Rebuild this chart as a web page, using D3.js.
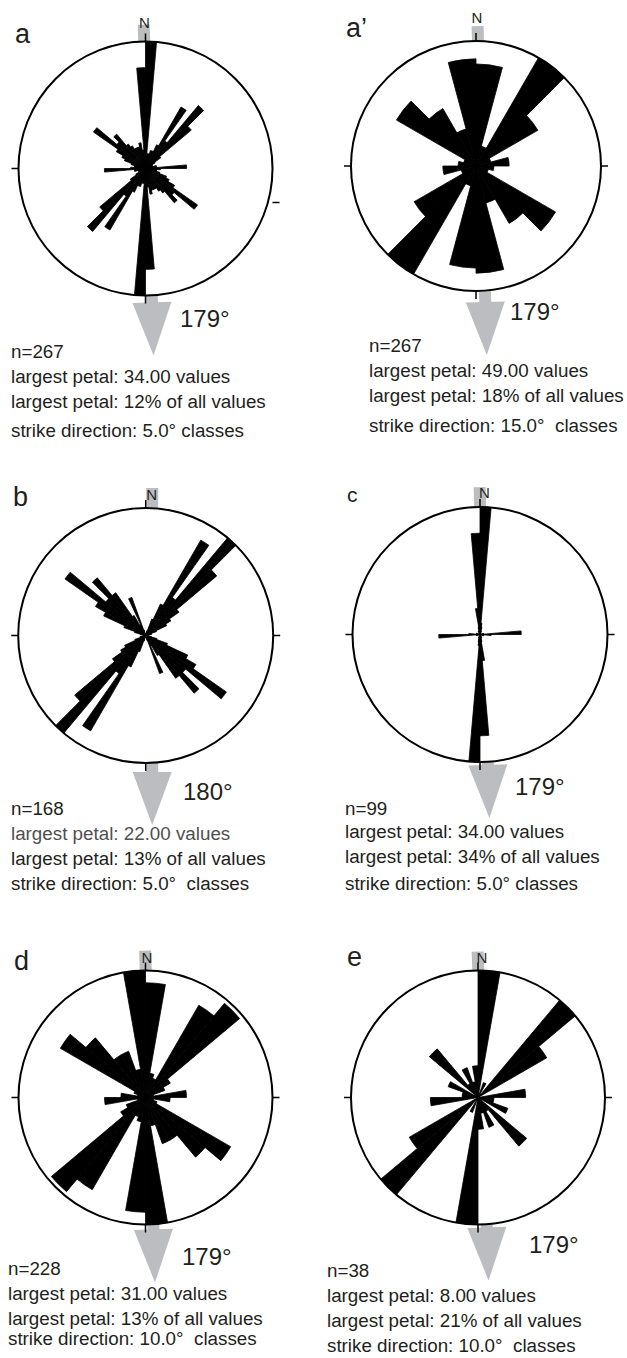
<!DOCTYPE html>
<html>
<head>
<meta charset="utf-8">
<script src="https://cdn.jsdelivr.net/npm/d3@7"></script>
<style>
  html, body { margin: 0; padding: 0; background: #fff; }
  svg text { font-family: "Liberation Sans", Arial, sans-serif; fill: #231f20; white-space: pre; }
</style>
</head>
<body>
<svg id="chart" width="627" height="1358"></svg>
<script>
// Petal counts per strike class from 0° to 180° (each is mirrored to 180°-360°)
const countsA = [34, 4, 4, 5, 5, 7, 19, 9, 22, 16, 5, 3, 2, 2, 2, 3, 3, 11,
                 4, 3, 3, 4, 6, 7, 9, 17, 10, 12, 8, 7, 6, 6, 6, 7, 5, 27];
const countsA2 = [40, 8, 49, 28, 6, 13, 7, 5, 36, 26, 15, 42];
const countsB = [0, 0, 0, 1, 3, 6, 19, 8, 22, 16, 7, 5, 4, 2, 1, 1, 0, 0,
                 0, 0, 1, 2, 4, 8, 10, 17, 9, 13, 9, 4, 2, 7, 1, 0, 0, 0];
const countsC = [34, 3, 2, 0, 1, 0, 0, 0, 0, 0, 0, 0, 0, 0, 0, 1, 1, 11,
                 3, 1, 0, 1, 0, 0, 0, 0, 0, 0, 0, 0, 1, 0, 1, 2, 7, 27];
const countsD = [28, 6, 5, 26, 30, 7, 5, 2, 10, 6, 2, 3, 24, 19, 12, 12, 7, 31];
const countsE = [8, 0, 1, 0, 8, 5, 0, 0, 3, 1, 1, 2, 0, 4, 1, 2, 1, 2];

const panelCounts = [countsA, countsA2, countsB, countsC, countsD, countsE];
const panelIds = ['a', 'a\u2019', 'b', 'c', 'd', 'e'];
const sampleSizes = [267, 267, 168, 99, 228, 38];
const largestPetal = [34, 49, 22, 34, 31, 8];
const largestPct = [12, 18, 13, 34, 13, 21];
const classWidths = [5, 15, 5, 5, 10, 10];
const meanDirections = [179, 179, 180, 179, 179, 179];
const classSpacing = [' ', '  ', '  ', ' ', '  ', '  '];

// Layout of each panel on the page
const layout = [
    { cx: 145.5, cy: 168.5, r: 127, lx: 15, ly: 43, lsize: 27, tx: 11, lines: [358, 383, 408, 437], ax: 180, ay: 327, head: 7, stub: 17, nDy: 14, nDx: -1, ox: 2.5, rot: -1.7, rTickDy: 34 },
    { cx: 476, cy: 166, r: 125, lx: 346, ly: 37, lsize: 27, tx: 369, lines: [352, 377, 402, 432], ax: 510, ay: 320, head: 11, stub: 15, nDy: 18, nDx: 1, ox: 5.5, rot: -1.6, rTickDy: 0 },
    { cx: 145.7, cy: 635.5, r: 127.5, lx: 13, ly: 506, lsize: 27, tx: 11, lines: [815, 840, 865, 890], ax: 183, ay: 800, head: 9, stub: 20, nDy: 8, nDx: 6, ox: 6.5, rot: 0, rTickDy: 0 },
    { cx: 480, cy: 634.5, r: 127.5, lx: 347, ly: 502, lsize: 21, tx: 345, lines: [815, 838, 863, 890], ax: 515, ay: 795, head: 3, stub: 20, nDy: 9, nDx: 4.5, ox: 4, rot: -1.7, rTickDy: 0 },
    { cx: 145.5, cy: 1097.5, r: 127, lx: 14, ly: 970, lsize: 27, tx: 8, lines: [1275, 1300, 1325, 1345], ax: 182, ay: 1265, head: 5, stub: 20, nDy: 8, nDx: 1.5, ox: 4, rot: -1.7, rTickDy: 0 },
    { cx: 478, cy: 1097.5, r: 127, lx: 347, ly: 966, lsize: 27, tx: 327, lines: [1277, 1302, 1327, 1352], ax: 529, ay: 1253, head: 3, stub: 19, nDy: 8, nDx: 4, ox: 4.5, rot: -1.9, rTickDy: 0 },
];

const svg = d3.select('#chart');
const arc = d3.arc().innerRadius(0);
const toRad = (deg) => deg * Math.PI / 180;

panelCounts.forEach((counts, k) => {
    const p = layout[k];
    const w = classWidths[k];
    const g = svg.append('g');

    // Mean direction arrow (drawn first, circle covers the middle)
    const arrow = g.append('g')
        .attr('transform', `translate(${p.cx + p.ox},${p.cy}) rotate(${p.rot})`)
        .attr('fill', '#bcbdc0');
    arrow.append('rect')
        .attr('x', -6).attr('width', 12)
        .attr('y', -p.r - p.stub)
        .attr('height', 2 * p.r + p.stub + p.head + 1);
    arrow.append('path')
        .attr('d', d3.line()([[-19.5, p.r + p.head], [19.5, p.r + p.head], [0, p.r + p.head + 53]]));

    // Outer circle
    g.append('circle')
        .attr('cx', p.cx).attr('cy', p.cy).attr('r', p.r)
        .attr('fill', '#fff').attr('stroke', '#000').attr('stroke-width', 2);

    // Petals, bidirectional
    const rScale = d3.scaleLinear().domain([0, largestPetal[k]]).range([0, p.r]);
    const petals = counts.flatMap((v, i) => [0, 180].map(off => ({
        v, a0: off + i * w, a1: off + (i + 1) * w,
    })));
    g.append('g')
        .attr('transform', `translate(${p.cx},${p.cy})`)
        .selectAll('path')
        .data(petals.filter(d => d.v > 0))
        .join('path')
        .attr('d', d => arc({ outerRadius: rScale(d.v), startAngle: toRad(d.a0), endAngle: toRad(d.a1) }))
        .attr('fill', '#000')
        .attr('stroke', '#000')
        .attr('stroke-width', 0.8)
        .attr('stroke-linejoin', 'miter');

    // Ticks at N, E, S, W
    const ticks = [
        [p.cx, p.cy - p.r, p.cx, p.cy - p.r - 8],
        [p.cx, p.cy + p.r, p.cx, p.cy + p.r + 8],
        [p.cx - p.r, p.cy, p.cx - p.r - 7, p.cy],
        [p.cx + p.r, p.cy + p.rTickDy, p.cx + p.r + 7, p.cy + p.rTickDy],
    ];
    g.selectAll('line.tick').data(ticks).join('line')
        .attr('class', 'tick')
        .attr('x1', d => d[0]).attr('y1', d => d[1])
        .attr('x2', d => d[2]).attr('y2', d => d[3])
        .attr('stroke', '#000').attr('stroke-width', 1.5);

    g.append('text')
        .attr('x', p.cx + p.nDx).attr('y', p.cy - p.r - p.nDy)
        .attr('text-anchor', 'middle')
        .attr('font-size', 15)
        .text('N');

    // Panel letter
    g.append('text')
        .attr('x', p.lx).attr('y', p.ly)
        .attr('font-size', p.lsize)
        .text(panelIds[k]);

    // Mean direction label
    g.append('text')
        .attr('x', p.ax).attr('y', p.ay)
        .attr('font-size', 24)
        .text(meanDirections[k] + '\u00b0');

    // Statistics
    const info = [
        `n=${sampleSizes[k]}`,
        `largest petal: ${largestPetal[k].toFixed(2)} values`,
        `largest petal: ${largestPct[k]}% of all values`,
        `strike direction: ${w.toFixed(1)}\u00b0${classSpacing[k]}classes`,
    ];
    g.selectAll('text.info').data(info).join('text')
        .attr('class', 'info')
        .attr('x', p.tx)
        .attr('y', (d, i) => p.lines[i])
        .attr('font-size', 18.8)
        .style('fill', (d, i) => (k === 2 && i === 1) ? '#505050' : null)
        .text(d => d);
});
</script>
</body>
</html>
